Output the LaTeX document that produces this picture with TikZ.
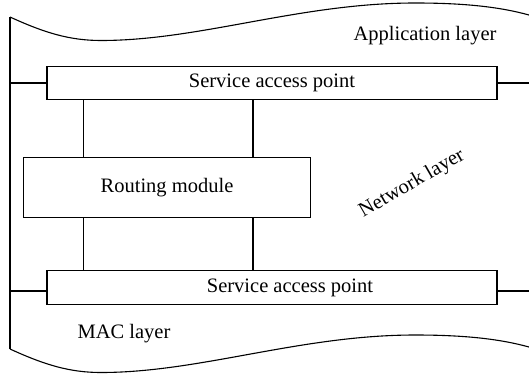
\documentclass[tikz,border=0pt]{standalone}
\usepackage{fontspec}
\setmainfont{Liberation Serif}
\usetikzlibrary{calc}
\begin{document}
\begin{tikzpicture}[x=1pt,y=-1pt,
  line width=1.1pt,
  every node/.style={font=\fontsize{20.5}{24}\selectfont, inner sep=0pt},
  layerbox/.style={draw, rectangle, minimum width=450pt, minimum height=33.5pt},
  modbox/.style={draw, rectangle, minimum width=286.5pt, minimum height=60pt},
  layertext/.style={anchor=base}]
\useasboundingbox (0,0) rectangle (529,375);

% border of the protocol stack
\coordinate (tl) at (10,17);
\coordinate (bl) at (10,349);
\coordinate (rr) at (529,0);
\coordinate (c1) at (83.6,0);
\coordinate (c2) at (253,0);
\coordinate (lineB) at (0,291);

% upper wavy edge
\draw (tl) .. controls (45,33) and (70,40.5) .. (101,40.5)
           .. controls (200,40.5) and (300,3) .. (415,3)
           .. controls (465,3) and (500,7) .. (529,15);
% lower wavy edge
\draw (bl) .. controls (45,365) and (70,372.5) .. (101,372.5)
           .. controls (200,372.5) and (300,335) .. (415,335)
           .. controls (465,335) and (500,339) .. (529,347);
% left side
\draw (tl) -- (bl);

% boxes
\node[layerbox] (sap1) at (272,83) {Service access point};
\node[modbox]   (route) at (167,187.4) {Routing module};
\node[layerbox] (sap2) at (272,287.4) {\hspace*{36pt}Service access point};

% layer labels
\node[layertext] (app) at (425,40) {Application layer};
\node[layertext] (mac) at (124,338) {MAC layer};
\node[rotate=30] (net) at (412,184) {Network layer};

% links between the boxes
\draw (sap1.south -| c1) -- (route.north -| c1);
\draw (sap1.south -| c2) -- (route.north -| c2);
\draw (route.south -| c1) -- (sap2.north -| c1);
\draw (route.south -| c2) -- (sap2.north -| c2);

% service access points reaching the stack edges
\draw (sap1.west) -- (sap1.west -| tl);
\draw (sap1.east) -- (sap1.east -| rr);
\draw (sap2.west |- lineB) -- (tl |- lineB);
\draw (sap2.east |- lineB) -- (rr |- lineB);
\end{tikzpicture}
\end{document}
